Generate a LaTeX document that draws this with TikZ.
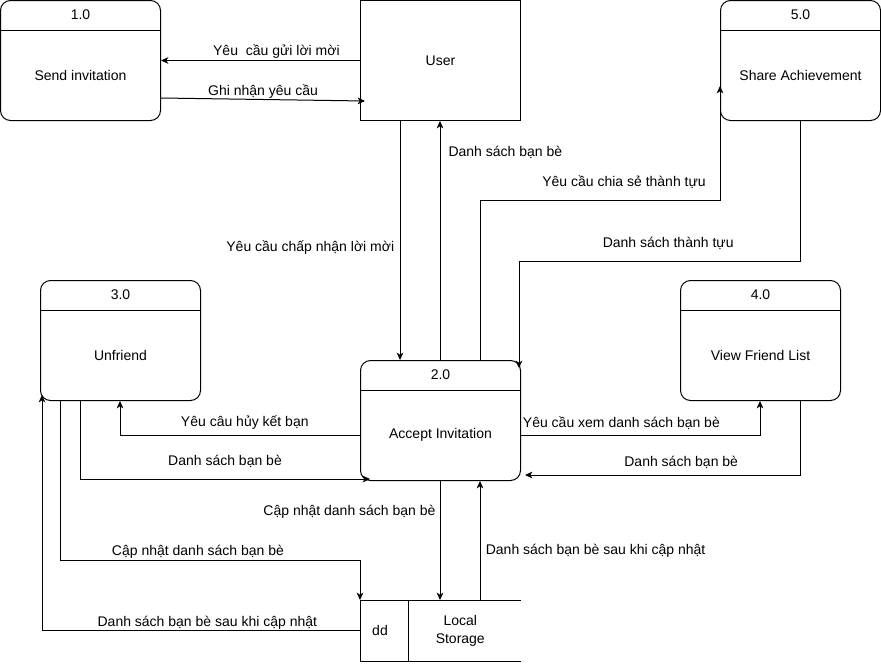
\documentclass[tikz,border=0pt]{standalone}
\usepackage{fontspec}
\setmainfont{Liberation Sans}
\usetikzlibrary{positioning,arrows.meta,calc}

\begin{document}
\begin{tikzpicture}[
    x=0.75pt, y=0.75pt,
    every node/.style={font=\fontsize{10.5}{13}\selectfont},
    proc/.style={rectangle, draw, rounded corners=7.5pt, line width=0.75pt,
                 minimum width=120pt, minimum height=90pt, anchor=north west, inner sep=0pt},
    entity/.style={rectangle, draw, line width=0.75pt,
                   minimum width=120pt, minimum height=90pt, anchor=north west},
    flow/.style={-{Stealth[length=5.5pt,width=5pt,inset=1.5pt]}, line width=0.75pt},
    lbl/.style={inner sep=1pt},
]
\useasboundingbox (0,0) rectangle (881,-664);

% Processes (number in header, name below)
\foreach \n/\x/\y/\num/\txt in {1/0/0/1.0/Send invitation,
                                5/720/0/5.0/Share Achievement,
                                3/40/-280/3.0/Unfriend,
                                4/680/-280/4.0/View Friend List,
                                2/360/-360/2.0/Accept Invitation} {
    \node[proc] (p\n) at (\x,\y) {};
    \draw[line width=0.75pt] ($(p\n.north west)+(0,-30)$) -- ($(p\n.north east)+(0,-30)$);
    \node (n\n) at ($(p\n.north)+(0,-15)$) {\num};
    \node (t\n) at ($(p\n.north)+(0,-75)$) {\txt};
}

% External entity
\node[entity] (user) at (360,0) {User};

% Data store
\node[minimum width=120pt, minimum height=45.75pt, anchor=north west, inner sep=0pt]
    (ds) at (360,-600) {};
\draw[line width=0.75pt] (ds.north east) -- (ds.north west) -- (ds.south west) -- (ds.south east);
\draw[line width=0.75pt] ($(ds.north west)+(48,0)$) -- ($(ds.south west)+(48,0)$);
\node (dsid) at ($(ds.west)+(20,0)$) {dd};
\node[align=center] (dsname) at ($(ds.center)+(20,0)$) {Local\\Storage};

% User <-> 1.0
\draw[flow] (user.west) -- node[lbl, above=0.5pt, pos=0.42] {Yêu~~cầu gửi lời mời} (p1.east);
\draw[flow] ($(p1.south east)+(0,23)$)
    -- node[lbl, above=-0.5pt] {Ghi nhận yêu cầu} ($(user.south west)+(5,20)$);

% User <-> 2.0
\draw[flow] ($(user.south west)+(40,0)$)
    -- node[lbl, left=3pt, pos=0.53] {Yêu cầu chấp nhận lời mời} ($(p2.north west)+(40,0)$);
\draw[flow] ($(p2.north west)+(80,0)$)
    -- node[lbl, right=5pt, pos=0.87] {Danh sách bạn bè} ($(user.south west)+(80,0)$);

% 2.0 <-> 5.0
\coordinate (c5) at ($(p5.north west)+(0,-86)$);
\draw[flow] ($(p2.north west)+(120,0)$) -- ++(0,160)
    -| node[lbl, pos=0.3, above=7pt] {Yêu cầu chia sẻ thành tựu} (c5);
\draw[flow] (p5.south) -- ++(0,-140)
    -| node[lbl, pos=0.235, above=7pt] {Danh sách thành tựu} ($(p2.north east)+(-2,-8)$);

% 2.0 <-> 3.0
\draw[flow] ($(p2.west)+(0,-15)$)
    -| node[lbl, pos=0.24, above=3.3pt] {Yêu câu hủy kết bạn} ($(p3.south west)+(80,0)$);
\draw[flow] ($(p3.south west)+(40,0)$)
    |- node[lbl, pos=0.75, above=6.8pt] {Danh sách bạn bè} ($(p2.south west)+(10,2)$);

% 2.0 <-> 4.0
\draw[flow] ($(p2.east)+(0,-15)$)
    -| node[lbl, pos=0.21, above=2.8pt] {Yêu cầu xem danh sách bạn bè} ($(p4.south west)+(80,0)$);
\draw[flow] ($(p4.south west)+(120,0)$)
    |- node[lbl, pos=0.716, above=3.5pt] {Danh sách bạn bè} ($(p2.south east)+(4,6)$);

% 2.0 <-> Local Storage
\draw[flow] ($(p2.south west)+(80,0)$)
    -- node[lbl, left=2pt, pos=0.26] {Cập nhật danh sách bạn bè} ($(ds.north west)+(80,0)$);
\draw[flow] ($(ds.north west)+(120,0)$)
    -- node[lbl, right=3pt, pos=0.41] {Danh sách bạn bè sau khi cập nhật} ($(p2.south west)+(120,0)$);

% 3.0 <-> Local Storage
\draw[flow] ($(p3.south west)+(20,0)$) |- ($(ds.north west)+(0,40)$)
    node[lbl, pos=0.73, above=-0.5pt] {Cập nhật danh sách bạn bè} -- (ds.north west);
\draw[flow] (ds.west)
    -| node[lbl, pos=0.24, above=-0.5pt] {Danh sách bạn bè sau khi cập nhật} ($(p3.south west)+(2,6)$);
\end{tikzpicture}
\end{document}
